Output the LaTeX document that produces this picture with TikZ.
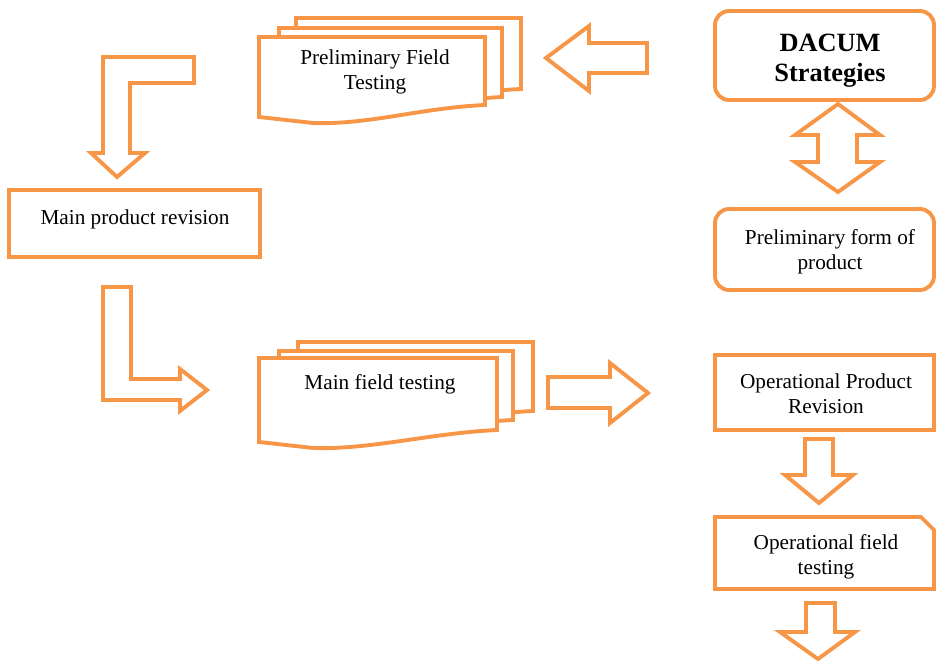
\documentclass[tikz,border=0pt]{standalone}
\usepackage{fontspec}
\setmainfont{Liberation Serif}
\usepackage{tikz}
\usetikzlibrary{positioning,calc}

\definecolor{accentorange}{RGB}{247,150,70}

\tikzset{
	outline/.style={draw=accentorange,line width=2.2pt,line join=miter,fill=white},
	txt/.style={font=\fontsize{12.1}{14.2}\selectfont,align=center,inner sep=0pt},
	boldtxt/.style={font=\fontsize{15}{17}\bfseries\selectfont,align=center,inner sep=0pt}
}

% one page of a stack of documents, wavy bottom
\newcommand{\docpage}[4]{%
	\draw[outline] (#1,#2) -- (#3,#2) -- (#3,#4)
		.. controls ({#3-65},{#4+3}) and ({#1+110},{#4+20}) .. ({#1+54},{#4+18})
		-- (#1,{#4+12}) -- cycle;}

\begin{document}
\begin{tikzpicture}[x=0.02cm,y=-0.02cm]
		\useasboundingbox (0,0) rectangle (936,661);
		% preliminary field testing
		\docpage{296}{18}{521}{89}
		\docpage{279}{28}{502}{97}
		\docpage{259}{37}{485}{105}
		\node[txt] (prelimtest) at (375,72) {Preliminary Field\\Testing};
		% arrow to the left
		\draw[outline] (546,58) -- (589,26) -- (589,43) -- (647,43) -- (647,73) -- (589,73) -- (589,91) -- cycle;
		% DACUM
		\draw[outline,rounded corners=8pt] (715,11) rectangle (934,100);
		\node[boldtxt] (dacum) at (830,61) {DACUM\\Strategies};
		% double arrow
		\draw[outline] (838,104) -- (880,135) -- (857,135) -- (857,162) -- (880,162) -- (838,192)
			-- (795,162) -- (818,162) -- (818,135) -- (795,135) -- cycle;
		% preliminary form
		\draw[outline,rounded corners=8pt] (715,209) rectangle (934,290);
		\node[txt] (prelimform) at (830,252) {Preliminary form of\\product};
		% bent arrow down
		\draw[outline] (194,57) -- (103,57) -- (103,153) -- (91,153) -- (117,177) -- (145,153) -- (130,153) -- (130,83) -- (194,83) -- cycle;
		% main product revision
		\draw[outline] (9,190) rectangle (260,257);
		\node[txt] (mainrev) at (135,219) {Main product revision};
		% L arrow
		\draw[outline] (103,287) -- (131,287) -- (131,379) -- (180,379) -- (180,369) -- (207,390) -- (180,411) -- (180,400) -- (103,400) -- cycle;
		% main field testing
		\docpage{298}{342}{533}{411}
		\docpage{279}{351}{513}{420}
		\docpage{259}{358}{497}{430}
		\node[txt] (mainfield) at (380,384) {Main field testing};
		% arrow to the right
		\draw[outline] (548,377) -- (610,377) -- (610,363) -- (648,393) -- (610,423) -- (610,408) -- (548,408) -- cycle;
		% operational product revision
		\draw[outline] (715,355) rectangle (934,430);
		\node[txt] (oprev) at (826,394) {Operational Product\\Revision};
		\draw[outline] (805,439) -- (833,439) -- (833,475) -- (853,475) -- (819,503) -- (785,475) -- (805,475) -- cycle;
		% operational field testing
		\draw[outline] (715,517) -- (921,517) -- (934,530) -- (934,589) -- (715,589) -- cycle;
		\node[txt] (opfield) at (826,557) {Operational field\\testing};
		\draw[outline] (806,603) -- (835,603) -- (835,632) -- (855,632) -- (818,659) -- (780,632) -- (806,632) -- cycle;
\end{tikzpicture}
\end{document}
